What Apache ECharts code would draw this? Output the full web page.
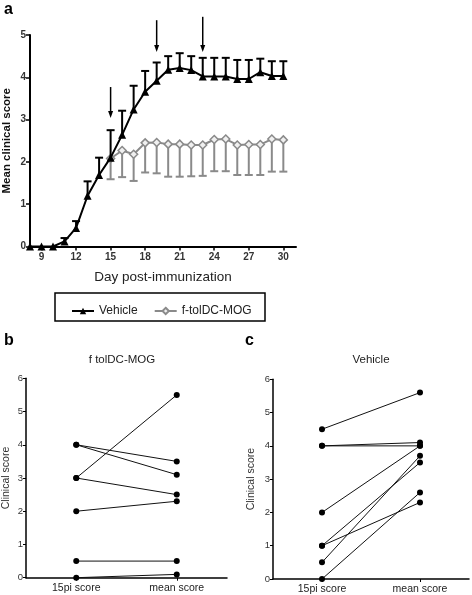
<!DOCTYPE html>
<html><head><meta charset="utf-8">
<script src="https://cdn.jsdelivr.net/npm/echarts@6/dist/echarts.min.js"></script>
<style>html,body{margin:0;padding:0;background:#fff}#c{width:472px;height:595px}</style>
</head><body><div id="c"></div>
<script>
// ---- Panel a data ----
const days = [8,9,10,11,12,13,14,15,16,17,18,19,20,21,22,23,24,25,26,27,28,29,30];
const vehicleMean  = [0,0,0,0.12,0.44,1.2,1.69,2.1,2.64,3.24,3.66,3.92,4.18,4.22,4.17,4.02,4.02,4.02,3.96,3.96,4.12,4.03,4.03];
const vehicleUpper = [0,0,0,0.2,0.6,1.54,2.1,2.75,3.21,3.8,4.15,4.35,4.5,4.57,4.5,4.46,4.46,4.46,4.41,4.41,4.44,4.38,4.38];
const tolDays  = [15,16,17,18,19,20,21,22,23,24,25,26,27,28,29,30];
const tolMean  = [2.08,2.27,2.18,2.45,2.46,2.42,2.42,2.40,2.40,2.53,2.54,2.40,2.41,2.41,2.54,2.52];
const tolLower = [1.59,1.64,1.55,1.75,1.73,1.65,1.65,1.66,1.67,1.78,1.78,1.69,1.69,1.69,1.77,1.77];
const xTickDays = [9,12,15,18,21,24,27,30];
const arrowDays = [15,19,23];
const arrowTop  = [3.77,5.35,5.43];
const arrowTip  = [3.04,4.6,4.6];
// ---- Panels b, c data ----
const pairCategories = ['15pi score','mean score'];
const tolScore15  = [4,4,3,3,2,0.5,0];
const tolScoreMean = [3.5,3.1,5.5,2.5,2.3,0.5,0.1];
const vehScore15  = [4.5,4,4,2,1,1,0.5,0];
const vehScoreMean = [5.6,4.1,4.0,4.0,3.5,2.3,3.7,2.6];

const FONT = 'Liberation Sans, Arial, sans-serif';
const chart = echarts.init(document.getElementById('c'), null, {renderer:'canvas'});

function errBar(color, w) {
  return function(params, api) {
    const x = api.value(0), y = api.value(1), e = api.value(2);
    const p0 = api.coord([x, y]), p1 = api.coord([x, e]);
    return {type:'group', children:[
      {type:'line', shape:{x1:p0[0],y1:p0[1],x2:p1[0],y2:p1[1]}, style:{stroke:color,lineWidth:w}},
      {type:'line', shape:{x1:p1[0]-4,y1:p1[1],x2:p1[0]+4,y2:p1[1]}, style:{stroke:color,lineWidth:w}}
    ]};
  };
}

const series = [];
series.push({type:'custom', xAxisIndex:0, yAxisIndex:0, z:2, silent:true,
  data: tolDays.map((d,i)=>[d, tolMean[i], tolLower[i]]), renderItem: errBar('#8a8a8a', 2)});
series.push({type:'line', name:'f-tolDC-MOG', xAxisIndex:0, yAxisIndex:0, z:3,
  data: tolDays.map((d,i)=>[d, tolMean[i]]), symbol:'diamond', symbolSize:8,
  lineStyle:{color:'#8a8a8a', width:2}, itemStyle:{color:'#f0f0f0', borderColor:'#8a8a8a', borderWidth:1.5},
  color:'#8a8a8a', animation:false});
series.push({type:'custom', xAxisIndex:0, yAxisIndex:0, z:4, silent:true,
  data: days.map((d,i)=>[d, vehicleMean[i], vehicleUpper[i]]).filter(r=>r[2]>r[1]), renderItem: errBar('#000', 2)});
series.push({type:'line', name:'Vehicle', xAxisIndex:0, yAxisIndex:0, z:5,
  data: days.map((d,i)=>[d, vehicleMean[i]]), symbol:'triangle', symbolSize:8,
  lineStyle:{color:'#000', width:2}, itemStyle:{color:'#000'}, color:'#000', animation:false});
series.push({type:'custom', xAxisIndex:0, yAxisIndex:0, z:6, silent:true, clip:false,
  data: arrowDays.map((d,i)=>[d, arrowTop[i], arrowTip[i]]),
  renderItem: function(params, api){
    const a = api.coord([api.value(0), api.value(1)]), b = api.coord([api.value(0), api.value(2)]);
    return {type:'group', children:[
      {type:'line', shape:{x1:a[0],y1:a[1],x2:b[0],y2:b[1]-5}, style:{stroke:'#000',lineWidth:1.5}},
      {type:'polygon', shape:{points:[[b[0]-2.5,b[1]-7],[b[0]+2.5,b[1]-7],[b[0],b[1]]]}, style:{fill:'#000'}}
    ]};
  }});
tolScore15.forEach((v,i)=>{
  series.push({type:'line', xAxisIndex:1, yAxisIndex:1, data:[v, tolScoreMean[i]], symbol:'circle', symbolSize:6,
    lineStyle:{color:'#111', width:1}, itemStyle:{color:'#000'}, animation:false, silent:true});
});
vehScore15.forEach((v,i)=>{
  series.push({type:'line', xAxisIndex:2, yAxisIndex:2, data:[v, vehScoreMean[i]], symbol:'circle', symbolSize:6,
    lineStyle:{color:'#111', width:1}, itemStyle:{color:'#000'}, animation:false, silent:true});
});

const pairX = (gi)=>({type:'category', gridIndex:gi, data:pairCategories, boundaryGap:true,
  axisLine:{lineStyle:{color:'#000', width:1.5}}, axisTick:{show:true, alignWithLabel:true, length:3, lineStyle:{color:'#000'}},
  axisLabel:{color:'#222', fontSize:10.5, fontFamily:FONT, margin:5}});
const pairY = (gi, gap)=>({type:'value', gridIndex:gi, min:0, max:6, interval:1, name:'Clinical score', nameLocation:'middle', nameGap:gap,
  nameMoveOverlap:false,
  nameTextStyle:{color:'#333', fontSize:10.5, fontFamily:FONT},
  axisLine:{show:true, lineStyle:{color:'#000', width:1.5}}, axisTick:{show:true, length:3, lineStyle:{color:'#000'}},
  axisLabel:{color:'#333', fontSize:9.5, fontFamily:FONT, margin:3}, splitLine:{show:false}});

chart.setOption({
  animation:false,
  textStyle:{fontFamily:FONT},
  grid:[
    {left:30, top:35, width:266, height:211.5, outerBoundsMode:'none', containLabel:false},
    {left:26, top:378.3, width:201, height:199.4, outerBoundsMode:'none', containLabel:false},
    {left:273, top:379.3, width:196, height:199.7, outerBoundsMode:'none', containLabel:false}
  ],
  xAxis:[
    {type:'value', gridIndex:0, min:8, max:31.1, name:'Day post-immunization', nameLocation:'middle', nameGap:24,
      nameMoveOverlap:false,
      nameTextStyle:{color:'#222', fontSize:13.5, fontFamily:FONT},
      axisLine:{lineStyle:{color:'#000', width:2}},
      axisTick:{show:true, customValues:xTickDays, length:4, lineStyle:{color:'#000', width:1.5}},
      axisLabel:{customValues:xTickDays, color:'#333', fontSize:10, fontWeight:'bold', fontFamily:FONT, margin:6},
      splitLine:{show:false}},
    pairX(1), pairX(2)
  ],
  yAxis:[
    {type:'value', gridIndex:0, min:0, max:5, interval:1, name:'Mean clinical score', nameLocation:'middle', nameGap:17,
      nameMoveOverlap:false,
      nameTextStyle:{color:'#111', fontSize:11.5, fontWeight:'bold', fontFamily:FONT},
      axisLine:{show:true, lineStyle:{color:'#000', width:2}},
      axisTick:{show:true, length:4, lineStyle:{color:'#000', width:1.5}},
      axisLabel:{color:'#333', fontSize:10, fontWeight:'bold', fontFamily:FONT, margin:4},
      splitLine:{show:false}},
    pairY(1, 14), pairY(2, 16)
  ],
  legend:{data:['Vehicle','f-tolDC-MOG'], left:66, top:300, itemWidth:22, itemHeight:8, itemGap:16,
    textStyle:{color:'#222', fontSize:12, fontFamily:FONT}},
  graphic:[
    {type:'rect', shape:{x:55, y:293, width:210, height:28}, style:{fill:'none', stroke:'#000', lineWidth:1.5}},
    {type:'text', left:4, top:2, style:{text:'a', font:'bold 16px '+FONT, fill:'#000'}},
    {type:'text', left:4, top:333, style:{text:'b', font:'bold 16px '+FONT, fill:'#000'}},
    {type:'text', left:245, top:333, style:{text:'c', font:'bold 16px '+FONT, fill:'#000'}},
    {type:'text', x:122, y:360, style:{text:'f tolDC-MOG', font:'11.5px '+FONT, fill:'#222', textAlign:'center', textVerticalAlign:'middle'}},
    {type:'text', x:371, y:360, style:{text:'Vehicle', font:'11.5px '+FONT, fill:'#222', textAlign:'center', textVerticalAlign:'middle'}}
  ],
  series: series
});
</script></body></html>
